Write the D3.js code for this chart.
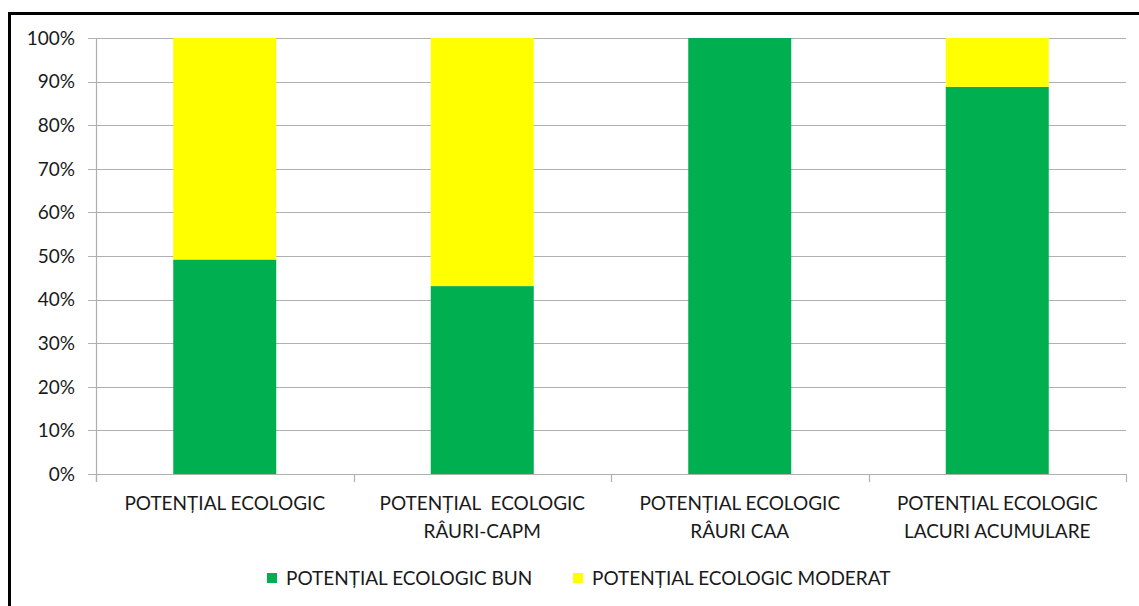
<!DOCTYPE html>
<html>
<head>
<meta charset="utf-8">
<script src="https://cdn.jsdelivr.net/npm/d3@7"></script>
<style>
  body { margin: 0; background: #fff; }
  svg text { font-family: Lato, "Open Sans", sans-serif; fill: #1a1a1a; }
</style>
</head>
<body>
<div id="chart"></div>
<script>
const categories = [
  ['POTENȚIAL ECOLOGIC'],
  ['POTENȚIAL  ECOLOGIC', 'RÂURI-CAPM'],
  ['POTENȚIAL ECOLOGIC', 'RÂURI CAA'],
  ['POTENȚIAL ECOLOGIC', 'LACURI ACUMULARE']
];
const seriesNames = ['POTENȚIAL ECOLOGIC BUN', 'POTENȚIAL ECOLOGIC MODERAT'];
const bun = [49.2, 43.1, 100, 88.8];
const moderat = [50.8, 56.9, 0, 11.2];
const yTicks = [0, 10, 20, 30, 40, 50, 60, 70, 80, 90, 100];
const colors = ['#00b050', '#ffff00'];

const W = 1139, H = 606;
const margin = { top: 38, right: 13, bottom: 132, left: 96 };
const width = W - margin.left - margin.right;
const height = H - margin.top - margin.bottom;
const fontSize = '19px';

const svg = d3.select('#chart').append('svg')
  .attr('width', W)
  .attr('height', H);

// outer frame (only left and top visible in the picture)
svg.append('path')
  .attr('d', `M9.5,${H + 5} V13.5 H${W + 5}`)
  .attr('fill', 'none')
  .attr('stroke', '#000')
  .attr('stroke-width', 3);

const g = svg.append('g')
  .attr('transform', `translate(${margin.left}, ${margin.top})`);

const keys = categories.map((d, i) => i);
const x = d3.scaleBand()
  .domain(keys)
  .range([0, width])
  .paddingInner(0.6)
  .paddingOuter(0.3);

const y = d3.scaleLinear()
  .domain([0, 100])
  .range([height, 0]);

// gridlines
g.append('g')
  .selectAll('line')
  .data(yTicks)
  .join('line')
  .attr('x1', -8)
  .attr('x2', width)
  .attr('y1', d => Math.round(y(d)) + 0.5)
  .attr('y2', d => Math.round(y(d)) + 0.5)
  .attr('stroke', '#b0b0b0')
  .attr('stroke-width', 1.2);

// y labels
g.append('g')
  .selectAll('text')
  .data(yTicks)
  .join('text')
  .attr('x', -21)
  .attr('y', d => y(d))
  .attr('dy', '0.36em')
  .attr('text-anchor', 'end')
  .style('font-size', fontSize)
  .text(d => d + '%');

// axes lines
g.append('line')
  .attr('x1', 0.5).attr('x2', 0.5)
  .attr('y1', 0).attr('y2', height + 8)
  .attr('stroke', '#b0b0b0').attr('stroke-width', 1.2);

const step = width / categories.length;
g.append('g')
  .selectAll('line')
  .data(d3.range(categories.length + 1))
  .join('line')
  .attr('x1', d => Math.round(d * step) + 0.5)
  .attr('x2', d => Math.round(d * step) + 0.5)
  .attr('y1', height)
  .attr('y2', height + 8)
  .attr('stroke', '#b0b0b0').attr('stroke-width', 1.2);

// stacked bars
const rows = keys.map(i => ({ i, bun: bun[i], moderat: moderat[i] }));
const stack = d3.stack().keys(['bun', 'moderat'])(rows);

g.append('g')
  .selectAll('g')
  .data(stack)
  .join('g')
  .attr('fill', (d, i) => colors[i])
  .selectAll('rect')
  .data(d => d)
  .join('rect')
  .attr('x', d => x(d.data.i))
  .attr('width', x.bandwidth())
  .attr('y', d => y(d[1]))
  .attr('height', d => y(d[0]) - y(d[1]));

// category labels
const lab = g.append('g')
  .selectAll('text')
  .data(categories)
  .join('text')
  .attr('x', (d, i) => x(i) + x.bandwidth() / 2)
  .attr('y', height + 36)
  .attr('text-anchor', 'middle')
  .style('font-size', fontSize)
  .style('white-space', 'pre')
  .attr('xml:space', 'preserve');

lab.selectAll('tspan')
  .data(d => d)
  .join('tspan')
  .attr('x', function () { return this.parentNode.getAttribute('x'); })
  .attr('dy', (d, j) => j === 0 ? 0 : 28)
  .text(d => d);

// legend
const legendX = [267, 573];
const legend = svg.append('g')
  .selectAll('g')
  .data(seriesNames)
  .join('g')
  .attr('transform', (d, i) => `translate(${legendX[i]}, 578)`);

legend.append('rect')
  .attr('x', 0).attr('y', -5)
  .attr('width', 10).attr('height', 10)
  .attr('fill', (d, i) => colors[i]);

legend.append('text')
  .attr('x', 19)
  .attr('y', 0)
  .attr('dy', '0.36em')
  .style('font-size', fontSize)
  .text(d => d);
</script>
</body>
</html>
